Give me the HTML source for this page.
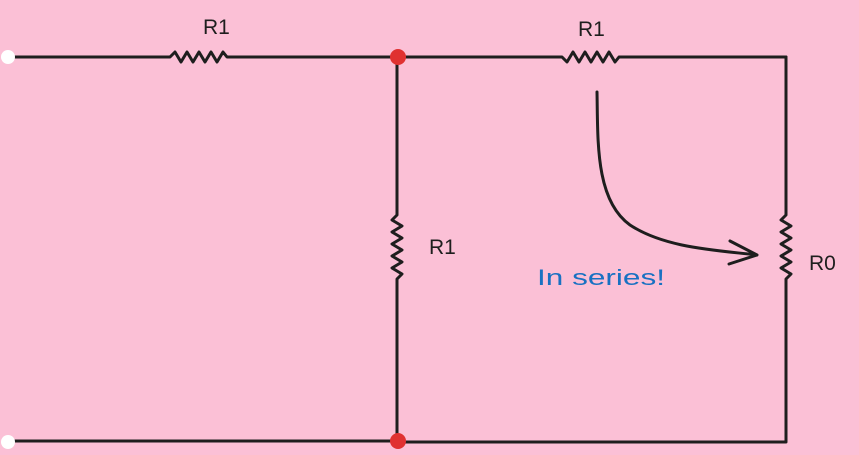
<!DOCTYPE html>
<html><head><meta charset="utf-8"><style>
html,body{margin:0;padding:0;background:#fbc0d6;}
svg{display:block;}
text{font-family:"Liberation Sans",sans-serif;}
</style></head><body>
<svg width="859" height="455" viewBox="0 0 859 455">
<rect width="859" height="455" fill="#fbc0d6"/>
<g stroke="#1e1e1e" stroke-width="3" fill="none" stroke-linejoin="round" stroke-linecap="round">
  <path d="M8 57 H170 l5 -5 l6 10 l6 -10 l6 10 l6 -10 l6 10 l6 -10 l6 10 l6 -10 l4 5 H562 l5 5 l6 -10 l6 10 l6 -10 l6 10 l6 -10 l6 10 l6 -10 l6 10 l4 -5 H786"/>
  <path d="M786 57 V215 l-5 5 l10 6 l-10 6 l10 6 l-10 6 l10 6 l-10 6 l10 6 l-10 6 l10 6 l-5 5 V442 H398"/>
  <path d="M397 57 V215 l-5 5 l10 6 l-10 6 l10 6 l-10 6 l10 6 l-10 6 l10 6 l-10 6 l10 6 l-5 5 V441"/>
  <path d="M8 441 H398"/>
  <path d="M597 92 C598 140 595 200 630 225 C665 248 715 250 757 255 M757 255 L730 241 M757 255 L729 264"/>
</g>
<circle cx="8" cy="57" r="7" fill="#fff"/>
<circle cx="8" cy="442" r="7" fill="#fff"/>
<circle cx="398" cy="57" r="8" fill="#e03131"/>
<circle cx="398" cy="441" r="8" fill="#e03131"/>
<g fill="#1e1e1e" font-size="21">
  <text x="203" y="34">R1</text>
  <text x="578" y="36">R1</text>
  <text x="429" y="254">R1</text>
  <text x="809" y="270">R0</text>
</g>
<text x="537" y="285" fill="#1971c2" font-size="22" textLength="128" lengthAdjust="spacingAndGlyphs">In series!</text>
</svg>
</body></html>
